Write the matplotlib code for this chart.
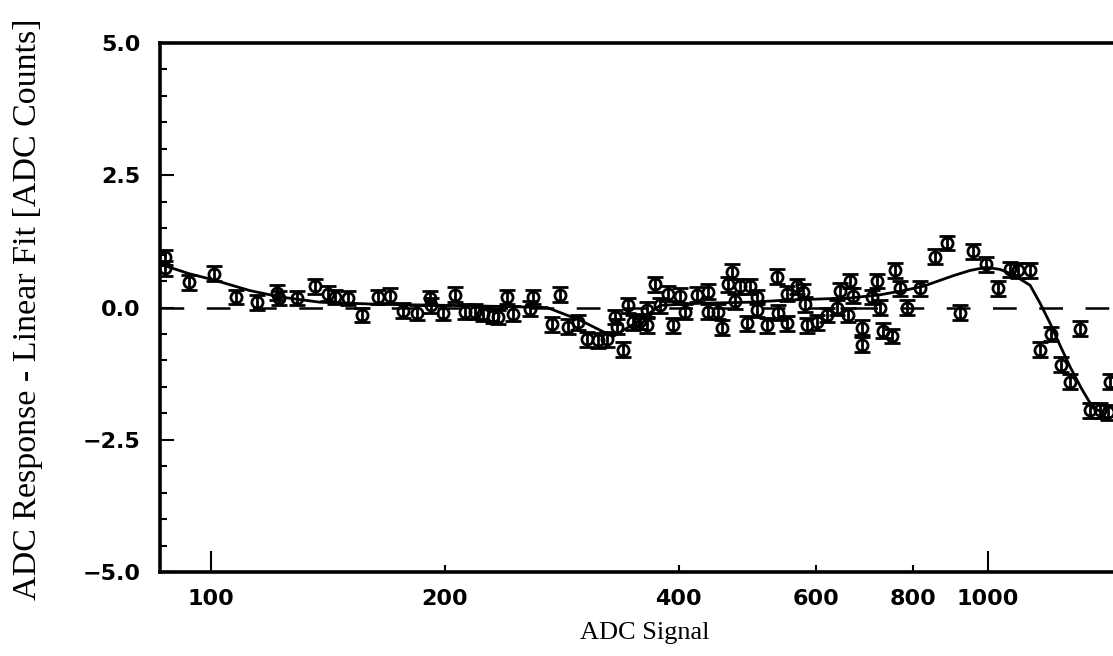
import numpy as np
import matplotlib
matplotlib.use("Agg")
import matplotlib.pyplot as plt
from matplotlib.ticker import FixedLocator, MultipleLocator

# ---- data (ADC signal, response - linear fit) ----
adc_signal = [87.3, 87.3, 93.7, 100.9, 107.7, 114.6, 121.6, 122.3, 129.0, 136.1,
              141.4, 144.4, 150.1, 156.5, 164.0, 170.0, 176.6, 184.1, 191.3, 191.9,
              198.9, 206.1, 212.3, 218.7, 224.0, 230.7, 234.1, 240.4, 244.7, 257.3,
              259.6, 274.7, 281.3, 288.1, 296.7, 304.7, 314.8, 323.3, 331.1, 333.1,
              339.1, 344.1, 349.3, 356.6, 364.1, 364.1, 372.8, 378.4, 387.5, 393.3,
              401.5, 407.4, 422.2, 436.1, 436.1, 449.3, 454.7, 462.8, 468.3, 472.5,
              479.5, 489.6, 494.0, 504.3, 504.3, 519.5, 535.1, 536.7, 551.2, 551.2,
              567.8, 578.0, 581.4, 584.9, 602.5, 620.6, 639.3, 645.0, 660.5, 664.4,
              670.4, 688.5, 688.5, 709.2, 719.8, 726.1, 732.7, 752.4, 759.2, 770.6,
              786.8, 817.6, 854.7, 885.6, 920.5, 956.6, 994.0, 1030.1, 1067.3, 1093.0,
              1132.7, 1166.7, 1205.4, 1241.7, 1275.1, 1313.5, 1353.1, 1393.7, 1427.0, 1435.5]
residual = [0.95, 0.74, 0.48, 0.64, 0.20, 0.10, 0.28, 0.18, 0.18, 0.40,
            0.26, 0.20, 0.18, -0.14, 0.20, 0.22, -0.06, -0.10, 0.18, 0.04,
            -0.10, 0.24, -0.08, -0.08, -0.12, -0.16, -0.18, 0.20, -0.12, -0.02,
            0.20, -0.32, 0.24, -0.36, -0.28, -0.60, -0.62, -0.60, -0.18, -0.36,
            -0.80, 0.04, -0.28, -0.26, -0.04, -0.34, 0.44, 0.04, 0.26, -0.34,
            0.22, -0.08, 0.24, 0.30, -0.08, -0.08, -0.38, 0.44, 0.68, 0.12,
            0.40, -0.30, 0.40, 0.20, -0.04, -0.34, 0.58, -0.10, 0.26, -0.30,
            0.40, 0.30, 0.06, -0.34, -0.28, -0.14, 0.00, 0.32, -0.14, 0.50,
            0.22, -0.38, -0.70, 0.20, 0.50, 0.00, -0.44, -0.54, 0.70, 0.36,
            0.00, 0.36, 0.96, 1.22, -0.10, 1.06, 0.82, 0.36, 0.72, 0.70,
            0.70, -0.80, -0.50, -1.08, -1.40, -0.40, -1.94, -1.94, -1.98, -1.40]
residual_err = 0.14

fit_x = [86.0, 93.7, 100.9, 112.2, 122.7, 138.1, 165.0, 203.0, 235.5, 270.7,
         298.5, 329.1, 356.6, 378.4, 425.9, 494.0, 551.2, 664.4, 726.1, 778.0,
         824.8, 901.5, 948.0, 994.0, 1036.1, 1077.0, 1132.7, 1166.7, 1202.0,
         1238.0, 1275.0, 1317.5, 1365.0, 1394.0]
fit_y = [0.82, 0.64, 0.52, 0.32, 0.20, 0.10, 0.06, 0.04, 0.02, 0.00,
         -0.24, -0.55, -0.24, 0.04, 0.08, 0.10, 0.14, 0.18, 0.24, 0.32,
         0.40, 0.60, 0.70, 0.76, 0.72, 0.62, 0.42, 0.08, -0.30,
         -0.72, -1.12, -1.52, -1.90, -1.96]

x_tick_values = [100, 200, 400, 600, 800, 1000]
x_tick_labels = ["100", "200", "400", "600", "800", "1000"]
y_tick_values = [-5.0, -2.5, 0.0, 2.5, 5.0]
y_tick_labels = ["\u22125.0", "\u22122.5", "0.0", "2.5", "5.0"]

# ---- figure ----
W, H = 1113, 656
fig = plt.figure(figsize=(W / 100, H / 100), dpi=100)
left, right, top, bottom = 160, 1113, 43, 572
ax = fig.add_axes([left / W, 1 - bottom / H, (right - left) / W, (bottom - top) / H])

ax.set_xscale("log")
ax.set_xlim(86, 1448)
ax.set_ylim(-5, 5)

ax.axhline(0, color="black", lw=1.8, dashes=(9.5, 9), zorder=1)
ax.plot(fit_x, fit_y, color="black", lw=2.0, zorder=2)
ax.errorbar(adc_signal, residual, yerr=residual_err, fmt="o", ms=8, mfc="none",
            mec="black", mew=2.0, ecolor="black", elinewidth=2.0, capsize=6,
            capthick=2.6, zorder=3)

# ticks: labelled ones, long only at the decades
ax.set_xticks(x_tick_values)
ax.set_xticklabels(x_tick_labels)
ax.xaxis.set_minor_locator(FixedLocator([]))
ax.set_yticks(y_tick_values)
ax.set_yticklabels(y_tick_labels)
ax.yaxis.set_minor_locator(MultipleLocator(0.5))

for lab in ax.get_xticklabels() + ax.get_yticklabels():
    lab.set_fontfamily("DejaVu Sans")
    lab.set_fontweight("bold")
    lab.set_fontsize(16)

ax.tick_params(axis="x", which="major", direction="in", length=5, width=1.5,
               pad=12, top=False)
ax.tick_params(axis="y", which="major", direction="in", length=10, width=1.5,
               pad=14, right=False)
ax.tick_params(axis="y", which="minor", direction="in", length=5, width=1.5, right=False)
for t in ax.xaxis.get_major_ticks():
    if t.get_loc() in (100, 1000):
        t.tick1line.set_markersize(15)

for side in ("left", "bottom", "top"):
    ax.spines[side].set_linewidth(2.6)
ax.spines["right"].set_visible(False)

fig.text(645 / W, 1 - 633 / H, "ADC Signal", ha="center", va="center",
         family="Liberation Serif", fontsize=19)
fig.text(28 / W, 1 - 309 / H, "ADC Response - Linear Fit [ADC Counts]",
         ha="center", va="center", rotation=90, family="Liberation Serif", fontsize=24.5)

fig.savefig("out.png", dpi=100)
